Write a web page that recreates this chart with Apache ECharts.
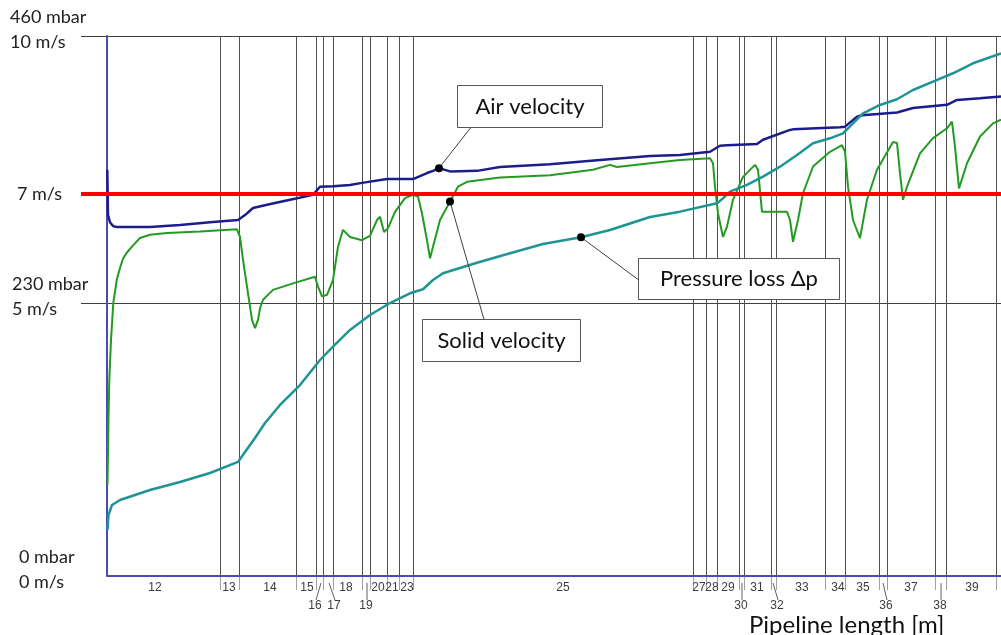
<!DOCTYPE html>
<html>
<head>
<meta charset="utf-8">
<script src="https://cdn.jsdelivr.net/npm/echarts@6/dist/echarts.min.js"></script>
<style>
  html, body { margin: 0; padding: 0; background: #fff; }
  #chart { width: 1001px; height: 635px; }
</style>
</head>
<body>
<div id="chart"></div>
<script>
// Distance along the pipeline in metres; velocities in m/s, pressure loss in mbar.
const airVelocity = [
  [0.03,7.44],[0.1,6.61],[0.3,6.48],[0.6,6.41],[1.0,6.39],[4.3,6.39],[7.3,6.43],[10.3,6.48],
  [13.1,6.52],[13.8,6.61],[14.6,6.74],[16.0,6.80],[18.3,6.89],[20.6,6.98],[21.3,7.13],[22.6,7.14],
  [24.3,7.16],[25.5,7.20],[28.0,7.27],[30.6,7.27],[32.0,7.38],[32.6,7.42],[33.2,7.47],[34.3,7.41],
  [37.0,7.42],[39.3,7.49],[44.3,7.54],[49.3,7.62],[54.3,7.69],[57.3,7.71],[60.3,7.77],[61.3,7.88],
  [62.0,7.89],[65.0,7.91],[65.6,7.99],[68.3,8.17],[68.6,8.18],[73.3,8.22],[73.8,8.23],[75.0,8.41],
  [75.5,8.44],[79.0,8.49],[80.6,8.57],[84.0,8.63],[85.0,8.72],[87.3,8.75],[89.4,8.78]
];

const solidVelocity = [
  [0.05,1.67],[0.15,2.86],[0.23,3.59],[0.4,4.32],[0.63,5.0],[0.97,5.42],[1.3,5.64],[1.6,5.81],
  [1.97,5.92],[2.63,6.06],[3.3,6.19],[4.3,6.25],[6.0,6.28],[9.3,6.31],[13.0,6.35],[13.3,6.21],
  [13.6,5.79],[14.0,5.30],[14.5,4.69],[14.8,4.54],[15.1,4.69],[15.3,4.90],[15.6,5.06],[16.6,5.24],
  [18.6,5.36],[20.8,5.48],[21.1,5.30],[21.5,5.12],[22.0,5.15],[22.6,5.42],[23.1,6.03],[23.6,6.34],
  [24.3,6.21],[25.5,6.15],[26.3,6.23],[27.0,6.52],[27.3,6.58],[27.7,6.30],[28.1,6.37],[28.8,6.67],
  [29.8,6.92],[30.6,6.98],[31.1,6.95],[31.5,6.64],[32.0,6.15],[32.3,5.82],[32.6,6.03],[33.3,6.52],
  [34.3,6.86],[35.1,7.13],[36.0,7.22],[39.3,7.30],[44.3,7.34],[48.6,7.44],[50.3,7.53],[51.0,7.49],
  [54.3,7.56],[57.3,7.62],[60.3,7.65],[60.6,7.56],[60.8,7.13],[61.1,6.64],[61.6,6.21],[62.0,6.40],
  [62.6,6.89],[63.6,7.31],[64.8,7.53],[65.1,7.44],[65.5,6.67],[68.0,6.67],[68.3,6.52],[68.6,6.12],
  [69.1,6.52],[69.6,7.01],[70.6,7.50],[72.3,7.77],[73.5,7.89],[73.8,7.77],[74.1,7.13],[74.6,6.52],
  [75.3,6.19],[76.0,6.89],[77.0,7.44],[78.6,7.95],[79.0,7.93],[79.3,7.38],[79.6,6.89],[80.0,7.13],
  [81.3,7.74],[82.6,8.02],[84.0,8.20],[84.5,8.32],[84.8,7.86],[85.2,7.10],[86.0,7.56],[87.3,8.05],
  [88.6,8.29],[89.4,8.36]
];

const pressureLoss = [
  [0.05,38.8],[0.15,51.4],[0.5,59.8],[1.3,64.0],[4.3,72.5],[7.3,79.2],[10.3,86.8],[13.1,96.1],
  [13.8,104.5],[14.8,116.3],[15.8,128.9],[17.3,144.1],[19.3,160.9],[21.3,182.0],[22.6,193.2],
  [24.3,207.3],[26.3,219.9],[28.3,230.0],[30.3,238.2],[31.6,241.6],[32.6,249.4],[33.6,255.1],
  [37.0,264.0],[40.3,271.9],[43.6,279.7],[47.4,285.4],[50.3,291.5],[54.3,302.5],[57.3,307.0],
  [61.0,314.0],[61.6,318.2],[62.3,323.8],[64.0,329.5],[65.6,336.5],[67.3,344.9],[69.0,354.7],
  [70.6,364.6],[72.3,368.8],[73.6,373.0],[74.6,381.4],[75.6,389.9],[77.3,396.9],[79.0,401.7],
  [80.6,409.5],[82.6,416.5],[84.6,423.6],[86.6,432.0],[89.4,440.4]
];

// Section boundaries along the line (m)
const sectionBounds = [
  11.3, 13.2, 18.9, 20.9, 21.6, 22.6, 25.5, 26.3, 28.0, 29.2, 30.6,
  58.6, 59.9, 61.0, 63.2, 63.7, 66.4, 66.9, 71.8, 73.8, 77.2, 78.0, 82.8, 83.9, 88.9
];

// Section numbers, where each number sits (m), and where its leader starts (lower row only)
const sectionNames = ['12','13','14','15','16','17','18','19','20','21','23','25',
  '27','28','29','30','31','32','33','34','35','36','37','38','39'];
const sectionLabelAt = [4.8, 12.2, 16.3, 20.0, 20.8, 22.7, 23.9, 25.9, 27.1, 28.5, 30.0, 45.6,
  59.2, 60.5, 62.1, 63.4, 65.0, 67.0, 69.5, 73.1, 75.6, 77.9, 80.4, 83.3, 86.5];
const leaderFrom = [null, null, null, null, 21.4, 22.2, null, 26.0, null, null, null, null,
  null, null, null, 63.5, null, 66.6, null, null, null, 77.6, null, 83.4, null];

const yTickLabels = [['0 mbar', '0 m/s'], ['230 mbar', '5 m/s'], ['460 mbar', '10 m/s']];
const velocityLimit = 7;

const callouts = [
  { text: 'Air velocity', at: [33.2, 7.47], axis: 0 },
  { text: 'Solid velocity', at: [34.3, 6.86], axis: 0 },
  { text: 'Pressure loss Δp', at: [47.4, 285.4], axis: 1 }
];

// Axis ranges
const X_MIN = -2.6, X_MAX = 89.4, V_MAX = 9.89, P_MAX = 455;

// Callout box placement relative to the marked point (px)
const calloutBoxes = [
  { dx: 17.5, dy: -83, w: 145, h: 42, lx: 32.5, ly: -41.5 },
  { dx: -27.7, dy: 118, w: 158, h: 42, lx: 34, ly: 118 },
  { dx: 57.3, dy: 21, w: 201, h: 41, lx: 57.7, ly: 42.7 }
];

const FONT = 'Lato, "Open Sans", sans-serif';
const SMALL_FONT = '12px "Liberation Sans", Arial, sans-serif';

function renderSection(params, api) {
  const x = api.value(0);
  const top = api.coord([x, V_MAX]);
  const bot = api.coord([x, 0]);
  const px = Math.round(bot[0]) + 0.5;
  return {
    type: 'group',
    children: [
      { type: 'line', shape: { x1: px, y1: top[1], x2: px, y2: bot[1] }, style: { stroke: '#505050', lineWidth: 1 } },
      { type: 'line', shape: { x1: px, y1: bot[1], x2: px, y2: bot[1] + 14 }, style: { stroke: '#a0a0a0', lineWidth: 1 } }
    ]
  };
}

function renderSectionLabel(params, api) {
  const i = params.dataIndex;
  const p = api.coord([api.value(0), 0]);
  const from = leaderFrom[i];
  if (from == null) {
    return { type: 'text', style: { text: sectionNames[i], x: p[0], y: p[1] + 12, align: 'center', verticalAlign: 'middle', font: SMALL_FONT, fill: '#3c3c3c' } };
  }
  const q = api.coord([from, 0]);
  return {
    type: 'group',
    children: [
      { type: 'line', shape: { x1: q[0], y1: p[1] + 7, x2: p[0] + 1, y2: p[1] + 24 }, style: { stroke: '#606060', lineWidth: 1 } },
      { type: 'text', style: { text: sectionNames[i], x: p[0], y: p[1] + 30, align: 'center', verticalAlign: 'middle', font: SMALL_FONT, fill: '#3c3c3c' } }
    ]
  };
}

function calloutSeries(c, box) {
  return {
    type: 'custom',
    name: c.text,
    yAxisIndex: c.axis,
    data: [c.at],
    clip: false,
    silent: true,
    z: 20,
    renderItem(params, api) {
      const p = api.coord([api.value(0), api.value(1)]);
      const bx = Math.round(p[0] + box.dx) + 0.5;
      const by = Math.round(p[1] + box.dy) + 0.5;
      return {
        type: 'group',
        children: [
          { type: 'line', shape: { x1: p[0], y1: p[1], x2: p[0] + box.lx, y2: p[1] + box.ly }, style: { stroke: '#404040', lineWidth: 1 } },
          { type: 'rect', shape: { x: bx, y: by, width: box.w, height: box.h }, style: { fill: '#fff', stroke: '#555', lineWidth: 1 } },
          { type: 'text', style: { text: c.text, x: bx + box.w / 2, y: by + box.h / 2, align: 'center', verticalAlign: 'middle', font: '22px ' + FONT, fill: '#111' } },
          { type: 'circle', shape: { cx: p[0], cy: p[1], r: 4 }, style: { fill: '#000' } }
        ]
      };
    }
  };
}

const tickStyles = ['c', 'b', 'a'];

const chart = echarts.init(document.getElementById('chart'), null, { renderer: 'canvas' });
chart.setOption({
  animation: false,
  backgroundColor: '#fff',
  title: {
    text: 'Pipeline length [m]',
    left: 744, top: 608,
    textStyle: { fontFamily: FONT, fontSize: 24, fontWeight: 'normal', color: '#111' }
  },
  grid: { left: 81, right: 0, top: 36, bottom: 59, containLabel: false, outerBoundsMode: 'none' },
  xAxis: {
    type: 'value', min: X_MIN, max: X_MAX,
    axisLine: { show: false }, axisTick: { show: false }, axisLabel: { show: false }, splitLine: { show: false }
  },
  yAxis: [
    {
      type: 'value', min: 0, max: V_MAX, interval: 5,
      axisLine: { show: true, onZero: true, lineStyle: { color: '#4b4bb4', width: 2 } },
      axisTick: { show: false },
      splitLine: { show: true, showMinLine: false, lineStyle: { color: '#404040', width: 1 } },
      axisLabel: {
        show: true, align: 'left', margin: 71, verticalAlign: 'middle',
        padding: [0, 0, 13, 0],
        formatter: (v, i) => yTickLabels[i].map(s => '{' + tickStyles[i] + '|' + s + '}').join('\n'),
        rich: {
          a: { fontFamily: FONT, fontSize: 18, color: '#222', lineHeight: 25 },
          b: { fontFamily: FONT, fontSize: 18, color: '#222', lineHeight: 25, padding: [0, 0, 0, 2] },
          c: { fontFamily: FONT, fontSize: 18, color: '#222', lineHeight: 25, padding: [0, 0, 0, 9] }
        }
      }
    },
    { type: 'value', min: 0, max: P_MAX, show: false, splitLine: { show: false } }
  ],
  series: [
    {
      type: 'custom', name: 'sections', data: sectionBounds.map(b => [b, 0]),
      renderItem: renderSection, clip: false, silent: true, z: 1
    },
    {
      type: 'custom', name: 'section numbers', data: sectionLabelAt.map(x => [x, 0]),
      renderItem: renderSectionLabel, clip: false, silent: true, z: 1
    },
    {
      type: 'line', name: 'Solid velocity', data: solidVelocity, showSymbol: false,
      lineStyle: { color: '#239b23', width: 2 }, itemStyle: { color: '#239b23' }, z: 3
    },
    {
      type: 'line', name: 'Air velocity', data: airVelocity, showSymbol: false,
      lineStyle: { color: '#1c1c8c', width: 2.5 }, itemStyle: { color: '#1c1c8c' }, z: 3,
      markLine: {
        silent: true, symbol: ['none', 'none'], animation: false,
        data: [
          {
            yAxis: velocityLimit,
            lineStyle: { color: '#ff0000', width: 4, type: 'solid' },
            label: { show: true, position: 'start', distance: 19, formatter: velocityLimit + ' m/s', color: '#222', fontFamily: FONT, fontSize: 18 }
          },
          [
            { coord: [0, 0], lineStyle: { color: '#4b4bb4', width: 2, type: 'solid' }, label: { show: false } },
            { coord: [X_MAX, 0] }
          ]
        ]
      }
    },
    {
      type: 'line', name: 'Pressure loss Δp', yAxisIndex: 1, data: pressureLoss, showSymbol: false,
      lineStyle: { color: '#1f9494', width: 2.5 }, itemStyle: { color: '#1f9494' }, z: 3
    },
    ...callouts.map((c, i) => calloutSeries(c, calloutBoxes[i]))
  ]
});
</script>
</body>
</html>
